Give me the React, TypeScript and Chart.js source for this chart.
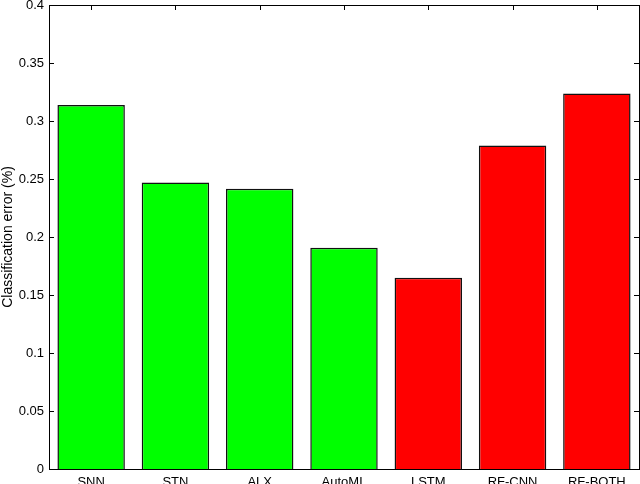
import { useEffect, useRef } from 'react';
import Chart from 'chart.js/auto';

const labels = ['SNN', 'STN', 'ALX', 'AutoML', 'LSTM', 'RF-CNN', 'RF-BOTH'];
const errors = [0.3138, 0.247, 0.2415, 0.1907, 0.1648, 0.2789, 0.3236];
const barColors = ['#00ff00', '#00ff00', '#00ff00', '#00ff00', '#ff0000', '#ff0000', '#ff0000'];
const yTicks = [0, 0.05, 0.1, 0.15, 0.2, 0.25, 0.3, 0.35, 0.4];

const FONT = 'Liberation Sans, Arial, Helvetica, sans-serif';

// matlab style box with inward ticks
const framePlugin = {
  id: 'matlabFrame',
  beforeDatasetsDraw(chart: any) {
    const { ctx, chartArea: a, scales } = chart;
    const xs = scales.x;
    const ys = scales.y;
    ctx.save();
    ctx.strokeStyle = '#000';
    ctx.lineWidth = 1;
    ctx.beginPath();
    yTicks.forEach((v) => {
      const py = Math.round(ys.getPixelForValue(v)) + 0.5;
      ctx.moveTo(a.left, py);
      ctx.lineTo(a.left + 5, py);
      ctx.moveTo(a.right, py);
      ctx.lineTo(a.right - 5, py);
    });
    labels.forEach((_, i) => {
      const px = Math.round(xs.getPixelForValue(i)) + 0.5;
      ctx.moveTo(px, a.top);
      ctx.lineTo(px, a.top + 5);
      ctx.moveTo(px, a.bottom);
      ctx.lineTo(px, a.bottom - 5);
    });
    ctx.stroke();
    ctx.strokeRect(
      Math.round(a.left) + 0.5,
      Math.round(a.top) + 0.5,
      Math.round(a.right - a.left),
      Math.round(a.bottom - a.top),
    );
    ctx.restore();
  },
};

export default function App() {
  const canvasRef = useRef<HTMLCanvasElement>(null);

  useEffect(() => {
    if (!canvasRef.current) return;
    const chart = new Chart(canvasRef.current, {
      type: 'bar',
      data: {
        labels,
        datasets: [
          {
            data: errors,
            backgroundColor: barColors,
            borderColor: '#111',
            borderWidth: 1.5,
            barPercentage: 0.8,
            categoryPercentage: 1.0,
          },
        ],
      },
      options: {
        responsive: false,
        animation: false,
        layout: { padding: { top: 5, right: 1, left: 0, bottom: 0 } },
        plugins: {
          legend: { display: false },
          tooltip: { enabled: false },
        },
        scales: {
          x: {
            grid: { display: false, drawTicks: false },
            border: { display: false },
            ticks: {
              color: '#000',
              padding: 6,
              maxRotation: 0,
              autoSkip: false,
              font: { family: FONT, size: 13 },
            },
            afterFit: (scale: any) => {
              scale.height = 15;
              scale.paddingLeft = 0;
              scale.paddingRight = 0;
            },
          },
          y: {
            min: 0,
            max: 0.4,
            grid: { display: false, drawTicks: false },
            border: { display: false },
            afterBuildTicks: (scale: any) => {
              scale.ticks = yTicks.map((v) => ({ value: v }));
            },
            ticks: {
              color: '#000',
              padding: 5,
              font: { family: FONT, size: 13 },
              callback: (v: any) => String(Number(Number(v).toFixed(2))),
            },
            title: {
              display: true,
              text: 'Classification error (%)',
              color: '#000',
              padding: { top: 0, bottom: 0 },
              font: { family: FONT, size: 14, lineHeight: 1.1 },
            },
            afterFit: (scale: any) => {
              scale.width = 49;
              scale.paddingTop = 0;
              scale.paddingBottom = 0;
            },
          },
        },
      },
      plugins: [framePlugin],
    });
    return () => chart.destroy();
  }, []);

  return (
    <div style={{ position: 'absolute', left: 0, top: 0, width: 640, height: 484, background: '#fff' }}>
      <canvas ref={canvasRef} width={640} height={484} />
    </div>
  );
}
